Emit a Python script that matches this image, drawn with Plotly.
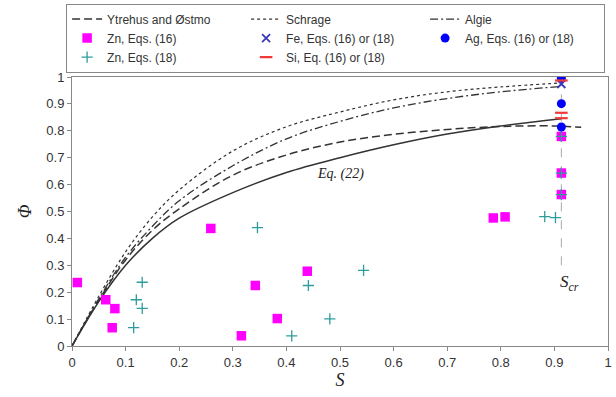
import plotly.graph_objects as go

# ---- data ----
S_cr = 0.913

curve_S = [0, 0.05, 0.1, 0.15, 0.2, 0.3, 0.4, 0.5, 0.6, 0.7, 0.8, 0.913]
eq22_phi = [0, 0.165, 0.30, 0.40, 0.475, 0.57, 0.645, 0.70, 0.748, 0.788, 0.818, 0.845]
schrage_phi = [0, 0.185, 0.35, 0.48, 0.58, 0.725, 0.815, 0.87, 0.915, 0.945, 0.963, 0.978]
algie_phi = [0, 0.175, 0.33, 0.445, 0.54, 0.67, 0.77, 0.835, 0.885, 0.92, 0.945, 0.965]

ytrehus_S = [0, 0.05, 0.1, 0.15, 0.2, 0.3, 0.4, 0.5, 0.6, 0.7, 0.8, 0.9, 0.95]
ytrehus_phi = [0, 0.17, 0.32, 0.43, 0.51, 0.635, 0.71, 0.758, 0.787, 0.805, 0.816, 0.818, 0.813]

zn16_S = [0.010, 0.063, 0.080, 0.075, 0.259, 0.316, 0.342, 0.383, 0.439, 0.786, 0.808, 0.913, 0.913, 0.913]
zn16_phi = [0.236, 0.172, 0.139, 0.068, 0.437, 0.038, 0.225, 0.102, 0.278, 0.476, 0.480, 0.779, 0.643, 0.563]

zn18_S = [0.115, 0.120, 0.131, 0.131, 0.346, 0.410, 0.441, 0.481, 0.544, 0.882, 0.902, 0.913, 0.913, 0.913]
zn18_phi = [0.068, 0.172, 0.237, 0.140, 0.440, 0.038, 0.225, 0.101, 0.281, 0.481, 0.477, 0.779, 0.643, 0.563]

ag_S = [0.913, 0.913, 0.913]
ag_phi = [0.995, 0.901, 0.814]

fe_S = [0.913]
fe_phi = [0.974]

si_S = [0.913, 0.913, 0.913]
si_phi = [0.987, 0.867, 0.847]

scr_line_phi = [0.30, 1.0]

x_ticks = [0, 0.1, 0.2, 0.3, 0.4, 0.5, 0.6, 0.7, 0.8, 0.9, 1]
x_ticktext = ["0", "0.1", "0.2", "0.3", "0.4", "0.5", "0.6", "0.7", "0.8", "0.9", "1"]
y_ticks = [0, 0.1, 0.2, 0.3, 0.4, 0.5, 0.6, 0.7, 0.8, 0.9, 1]
y_ticktext = ["0", "0.1", "0.2", "0.3", "0.4", "0.5", "0.6", "0.7", "0.8", "0.9", "1"]

LINE = "#333333"
SERIF = "Liberation Serif, Times New Roman, serif"
SANS = "Liberation Sans, Arial, sans-serif"

fig = go.Figure()

# S_cr vertical line
fig.add_trace(go.Scatter(x=[S_cr, S_cr], y=scr_line_phi, mode="lines",
                         line=dict(color="#aaaaaa", width=1, dash="dash"),
                         showlegend=False, hoverinfo="skip"))

# Eq. (22)
fig.add_trace(go.Scatter(x=curve_S, y=eq22_phi, mode="lines", line_shape="spline",
                         line=dict(color=LINE, width=1.5), showlegend=False))

fig.add_trace(go.Scatter(x=ytrehus_S, y=ytrehus_phi, mode="lines", line_shape="spline",
                         name="Ytrehus and Østmo", legendrank=1,
                         line=dict(color=LINE, width=1.5, dash="8px,4px")))
fig.add_trace(go.Scatter(x=curve_S, y=schrage_phi, mode="lines", line_shape="spline",
                         name="Schrage", legendrank=2,
                         line=dict(color=LINE, width=1.2, dash="dot")))
fig.add_trace(go.Scatter(x=curve_S, y=algie_phi, mode="lines", line_shape="spline",
                         name="Algie", legendrank=3,
                         line=dict(color=LINE, width=1.3, dash="8px,3px,2px,3px")))

fig.add_trace(go.Scatter(x=zn16_S, y=zn16_phi, mode="markers", name="Zn, Eqs. (16)", legendrank=4,
                         marker=dict(symbol="square", size=9.5, color="#ff00ff")))
fig.add_trace(go.Scatter(x=zn18_S, y=zn18_phi, mode="markers", name="Zn, Eqs. (18)", legendrank=7,
                         marker=dict(symbol="cross-thin-open", size=8, color="#2e9c9c",
                                     line=dict(color="#2e9c9c", width=1.3))))
fig.add_trace(go.Scatter(x=ag_S, y=ag_phi, mode="markers", name="Ag, Eqs. (16) or (18)", legendrank=6,
                         marker=dict(symbol="circle", size=9, color="#0000ff")))
fig.add_trace(go.Scatter(x=fe_S, y=fe_phi, mode="markers", name="Fe, Eqs. (16) or (18)", legendrank=5,
                         marker=dict(symbol="x-thin-open", size=8, color="#3a3ab8",
                                     line=dict(color="#3a3ab8", width=1.8))))
fig.add_trace(go.Scatter(x=si_S, y=si_phi, mode="markers", name="Si, Eq. (16) or (18)", legendrank=8,
                         marker=dict(symbol="line-ew-open", size=9, color="#f03a3a",
                                     line=dict(color="#f03a3a", width=2.2))))

fig.add_annotation(x=0.5, y=0.64, text="<i>Eq. (22)</i>", showarrow=False,
                   font=dict(family=SERIF, size=14, color="#222222"))
fig.add_annotation(x=0.928, y=0.235, text="<i>S<sub>cr</sub></i>", showarrow=False,
                   font=dict(family=SERIF, size=17, color="#222222"))

axis_common = dict(showline=True, linecolor="#888888", linewidth=1, mirror=True,
                   ticks="outside", ticklen=4, tickcolor="#888888",
                   showgrid=False, zeroline=False,
                   tickfont=dict(family=SANS, size=13, color="#333333"))

fig.update_layout(
    width=616, height=397,
    margin=dict(l=72, r=4, t=75, b=51),
    paper_bgcolor="white", plot_bgcolor="white",
    xaxis=dict(range=[0, 1], tickvals=x_ticks, ticktext=x_ticktext,
               title=dict(text="<i>S</i>", font=dict(family=SERIF, size=18, color="#222222"), standoff=4),
               **axis_common),
    yaxis=dict(range=[0, 1], tickvals=y_ticks, ticktext=y_ticktext,
               title=dict(text="<i>Φ</i>", font=dict(family=SERIF, size=18, color="#222222"), standoff=10),
               **axis_common),
    legend=dict(orientation="h", x=-0.011, xanchor="left", y=1.273, yanchor="top",
                entrywidth=134, entrywidthmode="pixels",
                bordercolor="#888888", borderwidth=1, bgcolor="rgba(255,255,255,0)",
                font=dict(family=SANS, size=12, color="#333333"),
                tracegroupgap=0, itemwidth=30),
    showlegend=True,
)

fig.write_html("out.html")
